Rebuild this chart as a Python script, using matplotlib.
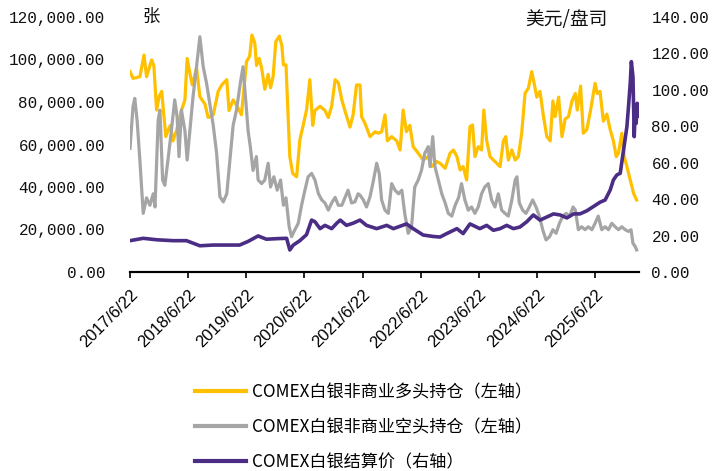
import matplotlib
matplotlib.use("Agg")
import matplotlib.pyplot as plt
import matplotlib.dates as mdates
from matplotlib.ticker import FixedLocator, FuncFormatter
import pandas as pd

# ---------------- data ----------------
long_dates = ["2017-06-22","2017-07-11","2017-08-23","2017-09-18","2017-10-04","2017-11-05","2017-11-19",
 "2017-12-06","2017-12-22","2018-01-07","2018-02-02","2018-02-18","2018-03-03","2018-03-19","2018-04-10",
 "2018-05-11","2018-06-02","2018-06-16","2018-07-07","2018-07-19","2018-08-14","2018-09-04","2018-10-06",
 "2018-10-26","2018-11-27","2018-12-28","2019-01-19","2019-02-20","2019-03-06","2019-04-01","2019-04-26",
 "2019-05-23","2019-06-24","2019-07-14","2019-07-28","2019-08-15","2019-08-26","2019-09-12","2019-09-27",
 "2019-10-17","2019-11-07","2019-11-22","2019-12-08","2019-12-25","2020-01-16","2020-02-01","2020-02-11",
 "2020-02-27","2020-03-22","2020-04-09","2020-05-04","2020-05-24","2020-06-14","2020-07-05","2020-07-26",
 "2020-08-13","2020-08-27","2020-09-28","2020-10-29","2020-11-19","2020-12-10","2021-01-01","2021-01-21",
 "2021-02-12","2021-03-03","2021-04-04","2021-04-24","2021-05-15","2021-06-06","2021-06-16","2021-07-07",
 "2021-08-08","2021-09-09","2021-09-29","2021-10-20","2021-11-10","2021-11-25","2021-12-22","2022-01-23",
 "2022-02-13","2022-03-04","2022-03-25","2022-04-15","2022-05-06","2022-06-07","2022-07-08","2022-08-09",
 "2022-08-30","2022-10-01","2022-10-22","2022-11-23","2022-12-24","2023-01-14","2023-02-05","2023-02-25",
 "2023-03-16","2023-04-07","2023-04-28","2023-05-14","2023-05-29","2023-06-19","2023-07-10","2023-07-24",
 "2023-08-11","2023-09-01","2023-09-22","2023-10-13","2023-11-03","2023-11-24","2023-12-09","2023-12-25",
 "2024-01-16","2024-02-06","2024-02-26","2024-03-18","2024-04-08","2024-04-29","2024-05-20","2024-06-04",
 "2024-06-21","2024-07-11","2024-08-02","2024-08-23","2024-09-13","2024-09-30","2024-10-14","2024-11-05",
 "2024-11-26","2024-12-16","2025-01-06","2025-01-28","2025-02-18","2025-03-02","2025-03-23","2025-04-09",
 "2025-05-01","2025-05-25","2025-06-22","2025-07-06","2025-07-23","2025-08-13","2025-09-04","2025-09-25",
 "2025-10-15","2025-11-02","2025-11-16","2025-12-07","2025-12-22","2026-01-08","2026-01-29","2026-02-19",
 "2026-03-10"]
long_values = [94300,91100,91900,102100,91900,99800,97000,
 76200,82500,85000,63700,67000,69000,61700,66500,
 76000,81000,100500,92000,88000,96000,82500,79000,
 72700,74000,85000,88000,90500,76000,81000,78000,
 74000,99000,101600,111500,107800,97200,100500,96000,
 86000,93000,86700,91900,108400,111000,106600,97500,
 97500,54300,46400,44800,62100,69000,76200,90500,
 69000,76000,78000,76000,72700,78000,90500,89000,
 81000,76000,68200,74000,88000,88000,73100,70000,
 63700,66000,65300,66000,73900,61700,63700,61700,
 57400,76200,66000,69000,59000,55900,52700,54300,
 49600,52000,51200,48800,55900,57400,54300,48000,
 49600,43300,68400,69200,54300,59000,57400,76200,
 61700,54300,52700,51200,49600,61700,63700,52700,
 57400,52700,54300,65300,84100,86500,94300,88800,
 82300,85000,73100,63700,61700,80500,73100,82300,
 63700,72000,73100,80500,84000,76200,87500,65300,
 67000,76200,88800,84000,85000,71000,74300,67000,
 61700,54300,55900,65300,54300,49600,43300,37000,
 33900]

short_dates = ["2017-06-22","2017-07-11","2017-07-22","2017-08-06","2017-08-23","2017-09-13","2017-10-04",
 "2017-10-25","2017-11-15","2017-11-26","2017-12-16","2017-12-27","2018-01-13","2018-01-27","2018-02-18",
 "2018-03-09","2018-03-30","2018-04-14","2018-04-26","2018-05-11","2018-06-02","2018-06-16","2018-07-03",
 "2018-07-23","2018-08-14","2018-09-04","2018-09-25","2018-10-16","2018-11-06","2018-11-27","2018-12-18",
 "2019-01-08","2019-01-29","2019-02-20","2019-03-10","2019-04-01","2019-04-22","2019-05-16","2019-06-02",
 "2019-06-19","2019-07-04","2019-07-18","2019-08-04","2019-08-25","2019-09-05","2019-09-27","2019-10-17",
 "2019-11-07","2019-11-22","2019-12-13","2020-01-03","2020-01-24","2020-02-11","2020-02-27","2020-03-18",
 "2020-04-02","2020-04-23","2020-05-14","2020-06-04","2020-06-25","2020-07-15","2020-08-06","2020-08-27",
 "2020-09-18","2020-10-09","2020-10-29","2020-11-19","2020-12-10","2021-01-01","2021-01-21","2021-02-12",
 "2021-03-03","2021-03-23","2021-04-14","2021-05-05","2021-05-25","2021-06-06","2021-06-27","2021-07-17",
 "2021-08-08","2021-08-28","2021-09-19","2021-10-05","2021-10-20","2021-11-10","2021-12-01","2021-12-22",
 "2022-01-12","2022-02-03","2022-02-24","2022-03-14","2022-04-05","2022-04-26","2022-05-16","2022-06-07",
 "2022-06-28","2022-07-18","2022-08-09","2022-08-20","2022-09-06","2022-09-20","2022-10-11","2022-11-02",
 "2022-11-23","2022-12-13","2023-01-04","2023-01-25","2023-02-15","2023-03-06","2023-03-27","2023-04-17",
 "2023-05-08","2023-05-29","2023-06-19","2023-07-10","2023-07-30","2023-08-21","2023-09-11","2023-10-02",
 "2023-10-23","2023-11-13","2023-12-04","2023-12-25","2024-01-16","2024-02-06","2024-02-17","2024-03-03",
 "2024-03-24","2024-04-14","2024-05-05","2024-05-26","2024-06-16","2024-07-07","2024-07-28","2024-08-18",
 "2024-09-09","2024-09-30","2024-10-20","2024-11-10","2024-12-02","2024-12-22","2025-01-13","2025-02-04",
 "2025-02-18","2025-03-09","2025-03-30","2025-04-20","2025-05-10","2025-06-02","2025-06-22","2025-07-12",
 "2025-08-03","2025-08-24","2025-09-14","2025-10-05","2025-10-26","2025-11-16","2025-12-07","2025-12-28",
 "2026-01-18","2026-02-03","2026-02-15","2026-03-01","2026-03-10"]
short_values = [58200,77800,81700,71000,52700,27600,34900,
 31400,36800,30600,71500,76200,43300,40800,54300,
 66500,81000,73000,54300,76200,66500,52700,66500,
 82500,96600,110700,96600,88800,79000,69000,56000,
 35400,33000,36800,51200,69000,76200,88800,96600,
 81000,66500,58900,47800,54300,43300,41600,43300,
 51200,40000,44800,38500,43300,31400,34900,21300,
 16600,19900,22900,31400,38500,44800,46400,43300,
 36800,33900,32500,29100,32500,35100,31400,31400,
 34900,38500,32500,33000,36800,36200,33900,30600,
 35400,42500,51200,46400,33900,29100,27600,41600,
 38500,36800,38500,27600,18200,21300,40000,43300,
 48000,55900,59000,49600,63700,49600,43300,36800,
 32500,27600,26300,31400,34900,41600,33900,29100,
 30600,27600,30600,36800,40000,41600,33900,30600,
 36800,29100,27600,26300,33900,43300,44800,32500,
 29100,27600,30600,33900,30600,26300,19900,15100,
 16600,19900,18200,22900,26300,27600,26300,30600,
 29100,19900,21300,19900,21300,19900,22900,26300,
 19900,21300,19900,22900,21300,19900,21300,19900,
 19100,19900,13500,12000,10400]

price_dates = ["2017-06-22","2017-09-13","2017-12-06","2018-03-19","2018-06-12","2018-09-04","2018-11-27",
 "2019-02-20","2019-05-12","2019-07-04","2019-09-05","2019-10-27","2019-12-30","2020-03-02","2020-03-22",
 "2020-04-13","2020-05-24","2020-07-05","2020-08-06","2020-08-27","2020-09-28","2020-10-29","2020-12-10",
 "2021-01-11","2021-02-02","2021-03-13","2021-04-24","2021-06-06","2021-07-17","2021-09-19","2021-11-21",
 "2022-01-02","2022-03-25","2022-05-06","2022-07-08","2022-09-10","2022-10-22","2022-12-03","2023-02-05",
 "2023-03-16","2023-04-28","2023-06-29","2023-08-11","2023-09-22","2023-11-03","2023-12-15","2024-01-26",
 "2024-03-07","2024-04-19","2024-05-30","2024-07-11","2024-08-23","2024-10-04","2024-11-15","2024-12-27",
 "2025-02-07","2025-03-19","2025-05-01","2025-06-11","2025-07-23","2025-08-24","2025-09-25","2025-10-15",
 "2025-11-06","2025-11-27","2025-12-18","2026-01-08","2026-01-18","2026-01-29","2026-02-05","2026-02-15",
 "2026-02-23","2026-03-02","2026-03-07","2026-03-14","2026-03-18"]
price_values = [17.2,18.5,17.7,17.2,17.2,14.4,14.8,
 14.8,14.8,16.8,19.8,18.0,18.3,18.5,12.1,
 14.8,17.2,20.5,28.5,27.6,23.8,25.6,23.8,
 26.8,28.5,25.6,26.8,28.5,25.6,23.8,25.6,
 23.8,26.4,23.8,20.3,19.5,19.2,21.1,23.8,
 21.1,26.4,23.8,25.6,22.9,23.8,25.6,23.8,
 24.7,27.6,31.3,28.5,30.2,31.9,31.3,29.7,
 31.9,31.9,33.6,35.9,38.3,39.5,45.0,50.5,
 53.3,54.2,67.0,79.8,90.8,103.6,115.5,107.2,
 74.3,90.8,81.6,92.6,85.5]

tick_dates = ["2017-06-22","2018-06-22","2019-06-22","2020-06-22","2021-06-22",
              "2022-06-22","2023-06-22","2024-06-22","2025-06-22"]
tick_labels = ["2017/6/22","2018/6/22","2019/6/22","2020/6/22","2021/6/22",
               "2022/6/22","2023/6/22","2024/6/22","2025/6/22"]

series_labels = ["COMEX白银非商业多头持仓（左轴）",
                 "COMEX白银非商业空头持仓（左轴）",
                 "COMEX白银结算价（右轴）"]

# ---------------- style ----------------
CJK = ["Noto Sans CJK SC", "DejaVu Sans"]
plt.rcParams["font.family"] = CJK
C_LONG, C_SHORT, C_PRICE = "#FFC000", "#A5A5A5", "#4B2D85"

fig = plt.figure(figsize=(7.24, 4.71), dpi=100)
ax = fig.add_axes([130/724, 1-272/471, (639-130)/724, (272-17)/471])
ax2 = ax.twinx()

l1, = ax.plot(pd.to_datetime(long_dates), long_values, color=C_LONG, lw=2.3, solid_joinstyle="round")
l2, = ax.plot(pd.to_datetime(short_dates), short_values, color=C_SHORT, lw=2.3, solid_joinstyle="round")
l3, = ax2.plot(pd.to_datetime(price_dates), price_values, color=C_PRICE, lw=2.6, solid_joinstyle="round")

ax.set_xlim(pd.Timestamp("2017-06-22"), pd.Timestamp("2026-03-25"))
ax.set_ylim(0, 120000)
ax2.set_ylim(0, 140)

ax.set_yticks(range(0, 120001, 20000))
ax2.set_yticks(range(0, 141, 20))
ax.yaxis.set_major_formatter(FuncFormatter(lambda v, p: f"{v:,.2f}"))
ax2.yaxis.set_major_formatter(FuncFormatter(lambda v, p: f"{v:.2f}"))

ax.xaxis.set_major_locator(FixedLocator(mdates.date2num(pd.to_datetime(tick_dates))))
ax.set_xticklabels(tick_labels, rotation=45, ha="right", rotation_mode="anchor",
                   fontfamily="Liberation Sans", fontsize=12)
ax.tick_params(axis="x", length=4, width=1.2, color="black", pad=7)
ax.tick_params(axis="y", length=0, pad=18)
ax2.tick_params(axis="y", length=0, pad=9)
for lab in ax.get_yticklabels() + ax2.get_yticklabels():
    lab.set_fontfamily("Liberation Mono")
    lab.set_fontsize(11.5)
    lab.set_color("#111111")

for a in (ax, ax2):
    for s in ("top", "left", "right"):
        a.spines[s].set_visible(False)
    a.spines["bottom"].set_linewidth(1.5)
    a.spines["bottom"].set_color("black")
    a.patch.set_visible(False)

fig.text(151/724, 1-17/471, "张", ha="center", va="center", fontsize=12.5, color="#111111")
fig.text(608/724, 1-19/471, "美元/盘司", ha="right", va="center", fontsize=13.5, color="#111111")

leg = fig.legend([l1, l2, l3], series_labels, loc="upper left",
                 bbox_to_anchor=(195/724, 1-383/471), frameon=False,
                 prop={"family": CJK, "size": 12.3},
                 handlelength=3.0, handletextpad=0.35, labelspacing=1.0,
                 borderpad=0, borderaxespad=0)
for h in leg.get_lines():
    h.set_linewidth(3)

fig.savefig("out.png", dpi=100)
